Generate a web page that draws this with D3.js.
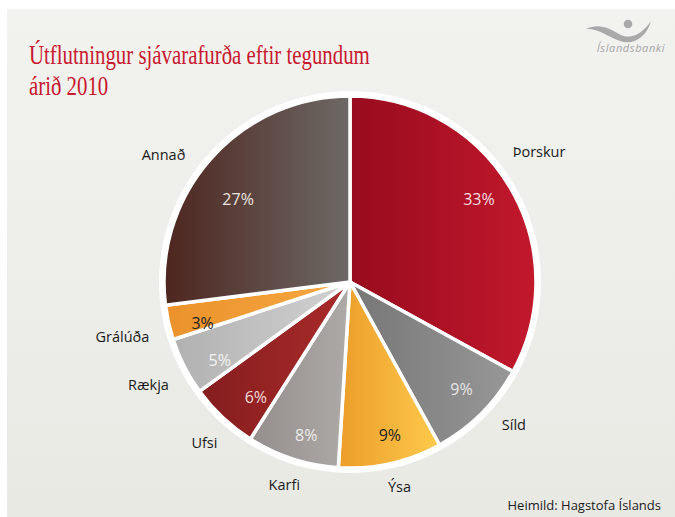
<!DOCTYPE html>
<html>
<head>
<meta charset="utf-8">
<script src="https://cdn.jsdelivr.net/npm/d3@7"></script>
<style>
  html, body { margin: 0; padding: 0; background: #fff; }
  svg { display: block; }
</style>
</head>
<body>
<svg id="chart" width="675" height="517"></svg>
<script>

// data (share of export value, %)
const categories = ["Þorskur", "Síld", "Ýsa", "Karfi", "Ufsi", "Rækja", "Grálúða", "Annað"];
const shares = [33, 9, 9, 8, 6, 5, 3, 27];

// gradient ends for each slice (left -> right)
const colorFrom = ["#980b1e", "#767676", "#ec9d2a", "#948e8c", "#841d1e", "#b1b1b1", "#eb922c", "#4d251e"];
const colorTo   = ["#c2182c", "#989898", "#fdca4c", "#aeaaa7", "#aa2b2b", "#d2d2d2", "#f6a842", "#6d6966"];
const pctColor  = ["#f6dfe2", "#e6e6e6", "#222", "#ececec", "#f3dcdc", "#f4f4f4", "#222", "#ece4e0"];

// hand placement of the labels, as in the original (degrees / px)
const labelNudge = [-4, -4, -1, 0, -1, 0, -1, -7];
const pctNudge   = [-2, -1, -2, -2, -4, -4, -3, -5];
const pctRadius  = [153, 155, 158, 159, 149, 152, 153, 139];

const titleLines = ["Útflutningur sjávarafurða eftir tegundum", "árið 2010"];
const sourceText = "Heimild: Hagstofa Íslands";

const svg = d3.select('#chart'),
      width = +svg.attr('width'),
      height = +svg.attr('height');

const defs = svg.append('defs');

// background panel
const bg = defs.append('linearGradient').attr('id', 'bg')
    .attr('x1', 0).attr('y1', 0).attr('x2', 0).attr('y2', 1);
bg.append('stop').attr('offset', '0%').attr('stop-color', '#f2f2ef');
bg.append('stop').attr('offset', '100%').attr('stop-color', '#e9e9e4');

svg.append('rect').attr('width', width).attr('height', height).attr('fill', '#fff');
svg.append('rect')
    .attr('x', 7).attr('y', 9)
    .attr('width', width - 7).attr('height', height - 9)
    .attr('fill', 'url(#bg)');

// title
const title = svg.append('g').attr('transform', 'translate(29,0)');
title.selectAll('text')
    .data(titleLines)
    .enter()
    .append('text')
    .attr('x', 0)
    .attr('y', function(d, i){ return 64 + i * 31 })
    .style('font-family', '"Liberation Serif", "DejaVu Serif", serif')
    .style('font-size', '28px')
    .attr('fill', '#c8182d')
    .text(function(d){ return d });

// squeeze title to the reference width
let w0 = title.select('text').node().getComputedTextLength();
let sx = 341 / w0;
title.attr('transform', 'translate(29,0) scale(' + sx + ',1)');

// logo
const logo = svg.append('g').attr('fill', '#a9a9a9');
logo.append('path')
    .attr('d', 'M586,29 C598,23 609,28 619,34 C631,41 643,33 651,21 C647,36 634,46 620,41 C607,36 597,28 586,29 Z');
logo.append('circle').attr('cx', 628).attr('cy', 24).attr('r', 4.3);
logo.append('text')
    .attr('x', 631).attr('y', 52)
    .attr('text-anchor', 'middle')
    .style('font-family', '"Open Sans", "DejaVu Sans", sans-serif')
    .style('font-size', '11px')
    .style('font-style', 'italic')
    .style('letter-spacing', '0.6px')
    .attr('fill', '#a6a6a6')
    .text('Íslandsbanki');

// pie
const cx = 350, cy = 282, radius = 186;
const deg = Math.PI / 180;

const data = categories.map(function(c, i){
    return { name: c, value: shares[i], i: i };
});

const pie = d3.pie()
    .sort(null)
    .value(function(d){ return d.value });

const arcs = pie(data);

const arc = d3.arc().innerRadius(0).outerRadius(radius);

arcs.forEach(function(a, i){
    let g = defs.append('linearGradient').attr('id', 'sl' + i)
        .attr('x1', 0).attr('y1', 0).attr('x2', 1).attr('y2', 0);
    g.append('stop').attr('offset', '0%').attr('stop-color', colorFrom[i]);
    g.append('stop').attr('offset', '100%').attr('stop-color', colorTo[i]);
});

const chart = svg.append('g').attr('transform', 'translate(' + cx + ',' + cy + ')');

// white rim
chart.append('circle').attr('r', radius + 5).attr('fill', '#fff');

chart.selectAll('path.slice')
    .data(arcs)
    .enter()
    .append('path')
    .attr('class', 'slice')
    .attr('d', arc)
    .attr('fill', function(d, i){ return 'url(#sl' + i + ')' })
    .attr('stroke', '#fff')
    .attr('stroke-width', 3.5)
    .attr('stroke-linejoin', 'round');

// percent labels
chart.selectAll('text.pct')
    .data(arcs)
    .enter()
    .append('text')
    .attr('class', 'pct')
    .attr('transform', function(d, i){
        let a = (d.startAngle + d.endAngle) / 2 + pctNudge[i] * deg,
            r = pctRadius[i];
        return 'translate(' + (r * Math.sin(a)) + ',' + (-r * Math.cos(a)) + ')';
    })
    .attr('text-anchor', 'middle')
    .attr('dy', '0.36em')
    .style('font-family', '"Open Sans", "Noto Sans", sans-serif')
    .style('font-size', '16px')
    .attr('fill', function(d, i){ return pctColor[i] })
    .text(function(d){ return d.data.value + '%' });

// category labels outside
const lbl = chart.selectAll('text.lbl')
    .data(arcs)
    .enter()
    .append('text')
    .attr('class', 'lbl')
    .attr('text-anchor', 'middle')
    .attr('dy', '0.36em')
    .style('font-family', '"Open Sans", "Noto Sans", sans-serif')
    .style('font-size', '14.5px')
    .attr('fill', '#1a1a1a')
    .text(function(d){ return d.data.name });

lbl.attr('transform', function(d, i){
    let a = (d.startAngle + d.endAngle) / 2 + labelNudge[i] * deg,
        w = this.getComputedTextLength(),
        r = 208 + w / 2 * Math.abs(Math.sin(a));
    return 'translate(' + (r * Math.sin(a)) + ',' + (-r * Math.cos(a)) + ')';
});

// source
svg.append('text')
    .attr('x', 661).attr('y', 510)
    .attr('text-anchor', 'end')
    .style('font-family', '"Open Sans", "Noto Sans", sans-serif')
    .style('font-size', '13px')
    .attr('fill', '#1a1a1a')
    .text(sourceText);

</script>
</body>
</html>
